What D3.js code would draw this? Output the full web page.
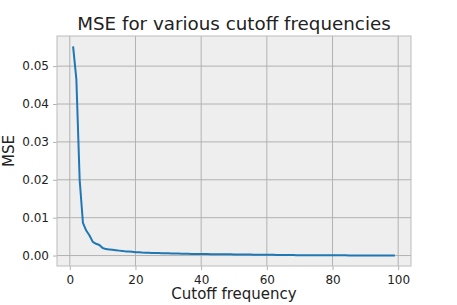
<!DOCTYPE html>
<html>
<head>
<meta charset="utf-8">
<script src="https://cdn.jsdelivr.net/npm/d3@7"></script>
<style>
  body { margin: 0; background: #fff; }
  text { font-family: "DejaVu Sans", sans-serif; fill: #222; }
</style>
</head>
<body>
<div id="chart"></div>
<script>
// cutoff frequencies 1..99 and the mse
var cutoffs = d3.range(1, 100);
var mse = [
  0.0552, 0.0465, 0.0200, 0.0086, 0.0066, 0.0053, 0.0036, 0.0031, 0.0028, 0.0020,
  0.0017, 0.0016, 0.0015, 0.0014, 0.0013, 0.0012, 0.0011, 0.00105, 0.0010, 0.0009,
  0.00085, 0.0008, 0.00077, 0.00074, 0.0007, 0.00067, 0.00064, 0.00062, 0.0006, 0.00058,
  0.00056, 0.00054, 0.00052, 0.0005, 0.00048, 0.00046, 0.00044, 0.00043, 0.00042, 0.0004,
  0.00039, 0.00038, 0.00037, 0.00036, 0.00035, 0.00034, 0.00033, 0.00032, 0.00031, 0.0003,
  0.00029, 0.00028, 0.00027, 0.00026, 0.00025, 0.00024, 0.00023, 0.00022, 0.00021, 0.0002,
  0.00019, 0.00018, 0.00017, 0.00016, 0.00015, 0.00014, 0.00013, 0.00012, 0.00011, 0.0001,
  0.0001, 0.000095, 0.00009, 0.000085, 0.00008, 0.000075, 0.00007, 0.000065, 0.00006, 0.000058,
  0.000055, 0.000052, 0.00005, 0.000047, 0.000044, 0.00004, 0.000037, 0.000034, 0.00003, 0.000028,
  0.000026, 0.000024, 0.000022, 0.00002, 0.000018, 0.000016, 0.000014, 0.000012, 0.00001
];
var xTicks = [0, 20, 40, 60, 80, 100];
var yTicks = [0, 0.01, 0.02, 0.03, 0.04, 0.05];

var W = 457, H = 305;
var margin = {top: 36, right: 46, bottom: 39, left: 57},
  width = W - margin.left - margin.right,
  height = H - margin.top - margin.bottom;

var svg = d3.select("#chart")
.append("svg")
  .attr("width", W)
  .attr("height", H);

var g = svg.append("g")
  .attr("transform", "translate(" + margin.left + "," + margin.top + ")");

// matplotlib style 5% margins
var xPad = (99 - 1) * 0.05;
var x = d3.scaleLinear()
  .domain([1 - xPad, 99 + xPad])
  .range([0, width]);
var yMax = d3.max(mse), yMin = 0;
var yPad = (yMax - yMin) * 0.05;
var y = d3.scaleLinear()
  .domain([yMin - yPad, yMax + yPad])
  .range([height, 0]);

// background
g.append("rect")
  .attr("width", width)
  .attr("height", height)
  .attr("fill", "#eeeeee");

// grid
g.append("g").selectAll("line")
  .data(xTicks).enter().append("line")
  .attr("x1", function(d) { return x(d); })
  .attr("x2", function(d) { return x(d); })
  .attr("y1", 0).attr("y2", height)
  .attr("stroke", "#b2b2b2").attr("stroke-width", 1);
g.append("g").selectAll("line")
  .data(yTicks).enter().append("line")
  .attr("y1", function(d) { return y(d); })
  .attr("y2", function(d) { return y(d); })
  .attr("x1", 0).attr("x2", width)
  .attr("stroke", "#b2b2b2").attr("stroke-width", 1);

// axes
var xAxis = g.append("g")
  .attr("transform", "translate(0," + height + ")")
  .call(d3.axisBottom(x).tickValues(xTicks).tickSize(4).tickPadding(5).tickFormat(d3.format("d")));
var yAxis = g.append("g")
  .call(d3.axisLeft(y).tickValues(yTicks).tickSize(4).tickPadding(4).tickFormat(d3.format(".2f")));
[xAxis, yAxis].forEach(function(a) {
  a.select(".domain").remove();
  a.selectAll("line").attr("stroke", "#b2b2b2");
  a.selectAll("text").attr("font-size", 12).attr("font-family", "DejaVu Sans").attr("fill", "#222");
});

// frame
g.append("rect")
  .attr("width", width)
  .attr("height", height)
  .attr("fill", "none")
  .attr("stroke", "#bcbcbc")
  .attr("stroke-width", 1);

// line
var line = d3.line()
  .x(function(d, i) { return x(cutoffs[i]); })
  .y(function(d) { return y(d); });
g.append("path")
  .datum(mse)
  .attr("fill", "none")
  .attr("stroke", "#1f77b4")
  .attr("stroke-width", 2)
  .attr("stroke-linejoin", "round")
  .attr("d", line);

// labels
svg.append("text")
  .attr("x", margin.left + width / 2)
  .attr("y", 30)
  .attr("text-anchor", "middle")
  .attr("font-size", 18.3)
  .text("MSE for various cutoff frequencies");
svg.append("text")
  .attr("x", margin.left + width / 2)
  .attr("y", 299)
  .attr("text-anchor", "middle")
  .attr("font-size", 15)
  .text("Cutoff frequency");
svg.append("text")
  .attr("transform", "translate(14," + (margin.top + height / 2) + ") rotate(-90)")
  .attr("text-anchor", "middle")
  .attr("font-size", 15)
  .text("MSE");
</script>
</body>
</html>
